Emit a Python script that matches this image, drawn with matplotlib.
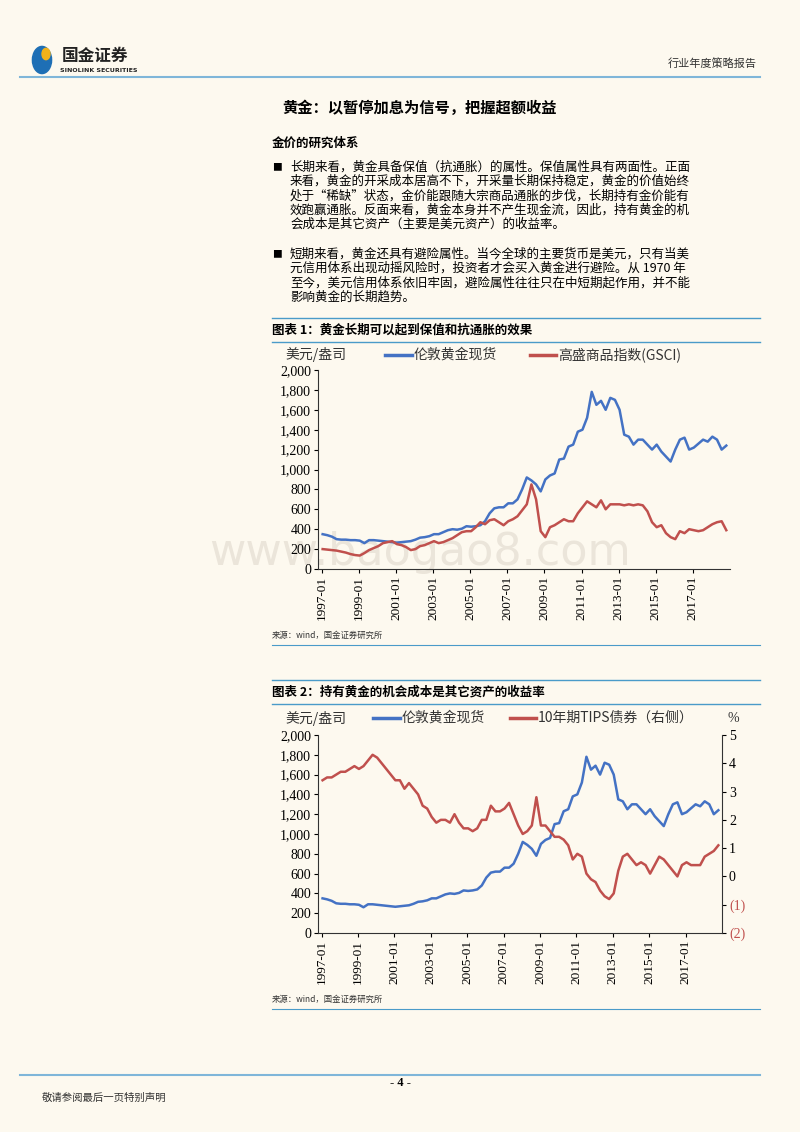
import matplotlib
matplotlib.use("Agg")
import matplotlib.pyplot as plt
import numpy as np

CJK = "Noto Sans CJK SC"
SER = "Liberation Serif"
BG = "#fdf9ef"
BLUE = "#4472c4"
RED = "#c0504d"

gold = [350,340,325,300, 295,295,290,290, 285,260,290,290, 285,280,275,270,
        265,270,275,280, 295,315,320,330, 350,350,370,390, 400,395,405,430,
        425,430,440,480, 560,610,620,620, 660,660,700,800, 920,890,850,780,
        900,940,960,1100, 1110,1230,1250,1380, 1400,1520,1780,1650, 1690,1600,1720,1700,
        1600,1350,1330,1250, 1300,1300,1250,1200, 1250,1180,1130,1080, 1200,1300,1320,1200,
        1220,1260,1300,1280, 1330,1300,1200,1240]
gsci = [200,195,190,185, 175,165,150,140, 135,160,190,210, 230,260,270,280,
        250,240,220,190, 200,230,240,260, 280,260,270,290, 310,340,370,380,
        380,420,470,450, 490,500,470,440, 480,500,530,590, 650,850,700,380,
        320,420,440,470, 500,480,480,560, 620,680,650,620, 690,600,650,650,
        650,640,650,640, 650,640,580,470, 420,440,360,320, 300,380,360,400,
        390,380,390,420, 450,470,480,390]
tips = [3.4,3.5,3.5,3.6, 3.7,3.7,3.8,3.9, 3.8,3.9,4.1,4.3, 4.2,4.0,3.8,3.6,
        3.4,3.4,3.1,3.3, 3.1,2.9,2.5,2.4, 2.1,1.9,2.0,2.0, 1.9,2.2,1.9,1.7,
        1.7,1.6,1.7,2.0, 2.0,2.5,2.3,2.3, 2.4,2.6,2.2,1.8, 1.5,1.6,1.8,2.8,
        1.8,1.8,1.6,1.4, 1.4,1.3,1.1,0.6, 0.8,0.7,0.1,-0.1, -0.2,-0.5,-0.7,-0.8,
        -0.6,0.2,0.7,0.8, 0.6,0.4,0.5,0.4, 0.1,0.4,0.7,0.6, 0.4,0.2,0.0,0.4,
        0.5,0.4,0.4,0.4, 0.7,0.8,0.9,1.1]
t = 1997 + np.arange(len(gold)) * 0.25 + 0.05
xticklabels = ["1997-01","1999-01","2001-01","2003-01","2005-01","2007-01","2009-01",
               "2011-01","2013-01","2015-01","2017-01"]
yticks_left = [0,200,400,600,800,1000,1200,1400,1600,1800,2000]
yticks_right = [-2,-1,0,1,2,3,4,5]

W, H = 800, 1132
fig = plt.figure(figsize=(8, 11.32), dpi=100, facecolor=BG)

def fx(x): return x / W
def fy(y): return 1 - y / H

def line(x0, x1, y, c, lw):
    fig.add_artist(plt.Line2D([fx(x0), fx(x1)], [fy(y), fy(y)], color=c, lw=lw))

# header
fig.patches.append(matplotlib.patches.Circle((fx(42), fy(60)), 0.012, transform=fig.transFigure, color="#1e6fb5"))
fig.patches.append(matplotlib.patches.Circle((fx(46), fy(54)), 0.005, transform=fig.transFigure, color="#f2b21b"))
fig.text(fx(62), fy(56), "国金证券", fontfamily=CJK, fontsize=12, fontweight="bold", va="center", color="#222")
fig.text(fx(60), fy(70), "SINOLINK SECURITIES", fontfamily="DejaVu Sans", fontsize=4.5, fontweight="bold", va="center", color="#222")
fig.text(fx(757), fy(64), "行业年度策略报告", fontfamily=CJK, fontsize=8, ha="right", va="center", color="#333")
line(20, 760, 77, "#7fb6d9", 1.5)

fig.text(fx(420), fy(108), "黄金：以暂停加息为信号，把握超额收益", fontfamily=CJK, fontsize=11, fontweight="bold", ha="center", va="center")
fig.text(fx(272), fy(143), "金价的研究体系", fontfamily=CJK, fontsize=9, fontweight="bold", va="center")
para1 = ["长期来看，黄金具备保值（抗通胀）的属性。保值属性具有两面性。正面",
         "来看，黄金的开采成本居高不下，开采量长期保持稳定，黄金的价值始终",
         "处于“稀缺”状态，金价能跟随大宗商品通胀的步伐，长期持有金价能有",
         "效跑赢通胀。反面来看，黄金本身并不产生现金流，因此，持有黄金的机",
         "会成本是其它资产（主要是美元资产）的收益率。"]
para2 = ["短期来看，黄金还具有避险属性。当今全球的主要货币是美元，只有当美",
         "元信用体系出现动摇风险时，投资者才会买入黄金进行避险。从 1970 年",
         "至今，美元信用体系依旧牢固，避险属性往往只在中短期起作用，并不能",
         "影响黄金的长期趋势。"]
y = 167
fig.text(fx(272), fy(y), "■", fontsize=7, va="center", fontfamily=CJK)
for s in para1:
    fig.text(fx(290), fy(y), s, fontfamily=CJK, fontsize=9, va="center"); y += 14.3
y = 254
fig.text(fx(272), fy(y), "■", fontsize=7, va="center", fontfamily=CJK)
for s in para2:
    fig.text(fx(290), fy(y), s, fontfamily=CJK, fontsize=9, va="center"); y += 14.3

def title_band(y0, y1, text):
    line(272, 760, y0, "#4a9bc9", 1.0)
    line(272, 760, y1, "#4a9bc9", 1.0)
    fig.text(fx(272), fy((y0 + y1) / 2), text, fontfamily=CJK, fontsize=9, fontweight="bold",
             style="italic", va="center")

def setup(ax):
    ax.set_facecolor("none")
    ax.set_xlim(1996.8, 2019.0)
    ax.set_ylim(0, 2000)
    ax.set_yticks(yticks_left)
    ax.set_yticklabels([f"{v:,}" for v in yticks_left], fontfamily=SER, fontsize=10)
    ax.set_xticks([1997 + 2 * i for i in range(11)])
    ax.set_xticklabels(xticklabels, rotation=90, fontfamily=SER, fontsize=9.5)
    for s in ["top", "right"]:
        ax.spines[s].set_visible(False)
    ax.spines["left"].set_color("#333")
    ax.spines["bottom"].set_color("#333")
    ax.tick_params(length=3, width=0.8, pad=2)

# chart 1
title_band(318, 342, "图表 1：黄金长期可以起到保值和抗通胀的效果")
ax1 = fig.add_axes([fx(318), fy(569), fx(730 - 318), fy(370) - fy(569)])
setup(ax1)
ax1.plot(t, gold, color=BLUE, lw=1.8)
ax1.plot(t, gsci, color=RED, lw=1.8)
fig.text(fx(285), fy(355), "美元/盎司", fontfamily=CJK, fontsize=10, va="center", color="#333")
fig.add_artist(plt.Line2D([fx(385), fx(412)], [fy(355)] * 2, color=BLUE, lw=2.5))
fig.text(fx(414), fy(355), "伦敦黄金现货", fontfamily=CJK, fontsize=10, va="center", color="#333")
fig.add_artist(plt.Line2D([fx(530), fx(556)], [fy(355)] * 2, color=RED, lw=2.5))
fig.text(fx(558), fy(355), "高盛商品指数(GSCI)", fontfamily=CJK, fontsize=10, va="center", color="#333")
fig.text(fx(272), fy(635), "来源：wind，国金证券研究所", fontfamily=CJK, fontsize=6, va="center", color="#333")
line(272, 760, 645, "#4a9bc9", 0.8)
fig.text(fx(420), fy(553), "www.baogao8.com", fontsize=32, color="#ebe5da", ha="center", va="center", zorder=-5)

# chart 2
title_band(680, 704, "图表 2：持有黄金的机会成本是其它资产的收益率")
ax2 = fig.add_axes([fx(318), fy(933), fx(722 - 318), fy(735) - fy(933)])
setup(ax2)
ax2.plot(t, gold, color=BLUE, lw=1.8)
ax3 = ax2.twinx()
ax3.set_ylim(-2, 5)
ax3.set_yticks(yticks_right)
ax3.set_yticklabels([f"({-v})" if v < 0 else str(v) for v in yticks_right], fontfamily=SER, fontsize=10)
for lab, v in zip(ax3.get_yticklabels(), yticks_right):
    if v < 0:
        lab.set_color(RED)
ax3.plot(t, tips, color=RED, lw=1.8)
ax3.spines["top"].set_visible(False)
ax3.spines["left"].set_visible(False)
ax3.spines["bottom"].set_visible(False)
ax3.spines["right"].set_color("#333")
ax3.tick_params(length=3, width=0.8, pad=2)
fig.text(fx(285), fy(718), "美元/盎司", fontfamily=CJK, fontsize=10, va="center", color="#333")
fig.add_artist(plt.Line2D([fx(373), fx(400)], [fy(718)] * 2, color=BLUE, lw=2.5))
fig.text(fx(402), fy(718), "伦敦黄金现货", fontfamily=CJK, fontsize=10, va="center", color="#333")
fig.add_artist(plt.Line2D([fx(510), fx(536)], [fy(718)] * 2, color=RED, lw=2.5))
fig.text(fx(538), fy(718), "10年期TIPS债券（右侧）", fontfamily=CJK, fontsize=10, va="center", color="#333")
fig.text(fx(733), fy(718), "%", fontfamily=SER, fontsize=10, ha="center", va="center", color="#333")
fig.text(fx(272), fy(999), "来源：wind，国金证券研究所", fontfamily=CJK, fontsize=6, va="center", color="#333")
line(272, 760, 1009, "#4a9bc9", 0.8)

# footer
line(20, 760, 1075, "#7fb6d9", 1.5)
fig.text(0.5, fy(1083), "- 4 -", fontfamily=SER, fontsize=9, fontweight="bold", ha="center", va="center")
fig.text(fx(42), fy(1098), "敬请参阅最后一页特别声明", fontfamily=CJK, fontsize=7.5, va="center", color="#333")

fig.savefig("out.png", dpi=100, facecolor=BG)
